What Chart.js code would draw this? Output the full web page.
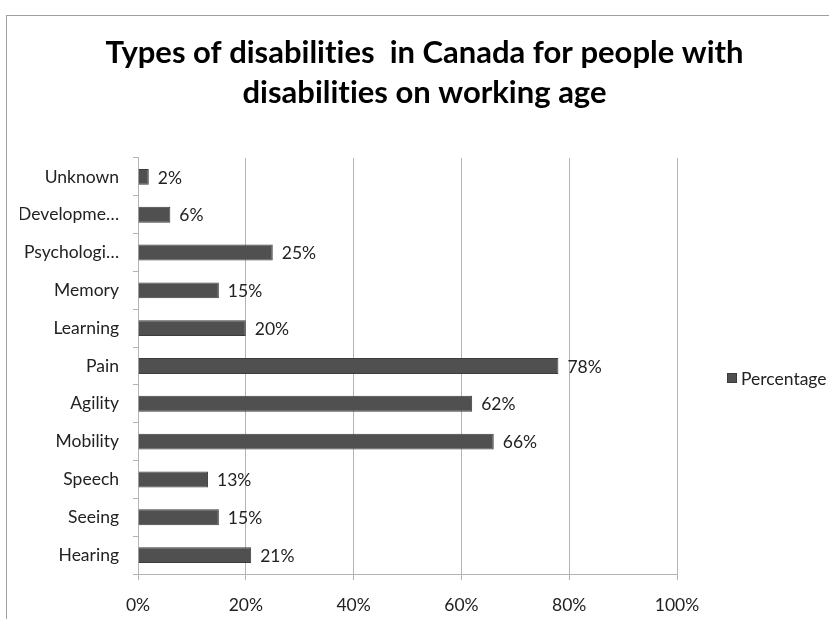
<!DOCTYPE html>
<html>
<head>
<meta charset="utf-8">
<script src="https://cdn.jsdelivr.net/npm/chart.js@4"></script>
<style>
  html, body { margin: 0; padding: 0; background: #fff; }
  #wrap { width: 829px; height: 619px; position: relative; }
</style>
</head>
<body>
<div id="wrap"><canvas id="myChart" width="829" height="619"></canvas></div>
<script>
const categories = ["Unknown", "Developme…", "Psychologi…", "Memory", "Learning", "Pain", "Agility", "Mobility", "Speech", "Seeing", "Hearing"];
const percentages = [2, 6, 25, 15, 20, 78, 62, 66, 13, 15, 21];
const xTicks = [0, 20, 40, 60, 80, 100];
const seriesName = "Percentage";
const titleLines = ["Types of disabilities  in Canada for people with", "disabilities on working age"];

const fontFamily = "Lato, 'Open Sans', sans-serif";
const labelSize = 17.5;
const barColor = "#505050";

// frame round the whole chart, like the spreadsheet chart box
const framePlugin = {
  id: 'frame',
  beforeDraw(chart) {
    const ctx = chart.ctx;
    ctx.textRendering = 'optimizeSpeed'; // no "ti" ligatures
    ctx.save();
    ctx.fillStyle = '#fff';
    ctx.fillRect(0, 0, chart.width, chart.height);
    ctx.strokeStyle = '#a0a0a0';
    ctx.lineWidth = 1;
    ctx.strokeRect(6.5, 15.5, chart.width + 20, chart.height + 20);
    ctx.restore();
  }
};

// value labels at the end of each bar + the legend on the right
const valueLabels = {
  id: 'valueLabels',
  afterDatasetsDraw(chart) {
    const ctx = chart.ctx;
    const meta = chart.getDatasetMeta(0);
    ctx.save();
    ctx.font = labelSize + "px " + fontFamily;
    ctx.fillStyle = '#222';
    ctx.textBaseline = 'middle';
    ctx.textAlign = 'left';
    meta.data.forEach((bar, i) => {
      ctx.fillText(percentages[i] + '%', bar.x + 9, bar.y + 1);
    });

    const area = chart.chartArea;
    const lx = area.right + 50;
    const ly = 378;
    ctx.fillStyle = barColor;
    ctx.fillRect(lx, ly - 5, 10, 10);
    ctx.strokeStyle = '#3c3c3c';
    ctx.strokeRect(lx + 0.5, ly - 4.5, 9, 9);
    ctx.fillStyle = '#222';
    ctx.fillText(seriesName, lx + 14, ly + 1);
    ctx.restore();
  }
};

new Chart("myChart", {
  type: "bar",
  data: {
    labels: categories,
    datasets: [{
      label: seriesName,
      data: percentages,
      backgroundColor: barColor,
      borderColor: "#3c3c3c",
      borderWidth: 1,
      categoryPercentage: 1,
      barPercentage: 0.42
    }]
  },
  options: {
    indexAxis: 'y',
    responsive: false,
    animation: false,
    layout: {
      padding: { top: 0, left: 20, right: 0, bottom: 0 }
    },
    plugins: {
      title: {
        display: true,
        text: titleLines,
        color: '#000',
        font: { family: fontFamily, size: 31, weight: 'bold', lineHeight: 1.29 },
        padding: { top: 33, bottom: 45 }
      },
      legend: { display: false },
      tooltip: { enabled: false }
    },
    scales: {
      x: {
        min: 0,
        max: 100,
        afterBuildTicks(axis) {
          axis.ticks = xTicks.map(v => ({ value: v }));
        },
        afterFit(axis) {
          axis.height = 45;
        },
        ticks: {
          color: '#222',
          padding: 15,
          font: { family: fontFamily, size: labelSize },
          callback: v => v + '%'
        },
        grid: {
          color: '#b4b4b4',
          tickLength: 6
        },
        border: { color: '#b4b4b4' }
      },
      y: {
        afterFit(axis) {
          axis.width = 118;
        },
        ticks: {
          color: '#222',
          padding: 14,
          font: { family: fontFamily, size: labelSize }
        },
        grid: {
          drawOnChartArea: false,
          color: '#b4b4b4',
          tickLength: 5
        },
        border: { color: '#b4b4b4' }
      },
      // empty right-hand axis that keeps room for the legend
      legendRoom: {
        type: 'linear',
        position: 'right',
        display: true,
        afterFit(axis) {
          axis.width = 152;
        },
        ticks: { display: false },
        grid: { display: false, drawTicks: false },
        border: { display: false }
      }
    }
  },
  plugins: [framePlugin, valueLabels]
});
</script>
</body>
</html>
